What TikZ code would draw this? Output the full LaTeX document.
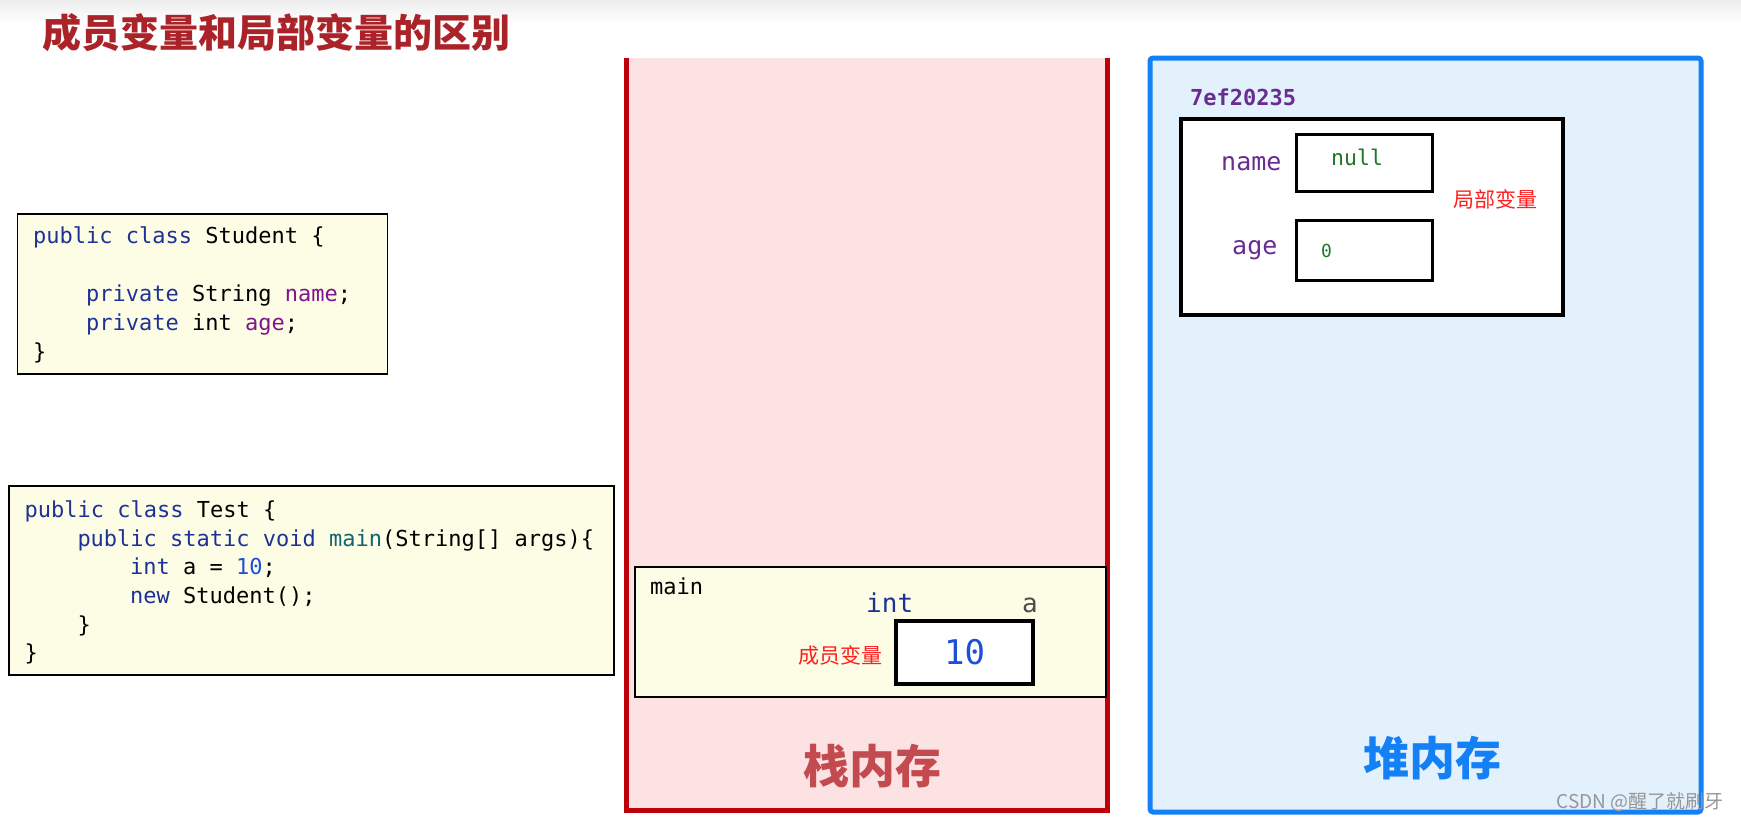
\documentclass[tikz,border=0pt]{standalone}
\usepackage{fontspec}
\newfontfamily\cjk{Noto Sans CJK SC}
\newfontfamily\code{DejaVu Sans Mono}
\definecolor{titlered}{RGB}{170,35,40}
\definecolor{kw}{RGB}{30,50,150}
\definecolor{fld}{RGB}{128,20,140}
\definecolor{fn}{RGB}{20,100,110}
\definecolor{num}{RGB}{30,80,215}
\definecolor{cream}{RGB}{253,253,230}
\definecolor{stackred}{RGB}{190,0,10}
\definecolor{stackfill}{RGB}{253,226,228}
\definecolor{stacklbl}{RGB}{195,75,80}
\definecolor{heapblue}{RGB}{20,128,245}
\definecolor{heapfill}{RGB}{227,241,253}
\definecolor{addr}{RGB}{105,45,145}
\definecolor{valgreen}{RGB}{30,120,40}
\definecolor{notered}{RGB}{255,30,30}
\definecolor{wm}{RGB}{150,150,150}
\tikzset{
  codebox/.style={draw=black, line width=1.5pt, fill=cream, inner sep=0pt},
  codeline/.style={anchor=base west, inner sep=0pt, font=\code\fontsize{22}{26}\selectfont},
  cellbox/.style={draw=black, line width=3pt, fill=white, inner sep=0pt},
  note/.style={inner sep=0pt, text=notered, font=\cjk\fontsize{21}{24}\selectfont},
  memlabel/.style={inner sep=0pt, font=\cjk\bfseries\fontsize{46}{50}\selectfont},
}
\begin{document}
\begin{tikzpicture}[x=1pt,y=-1pt]
\useasboundingbox (0,0) rectangle (1741,823);
\shade[top color=gray!14, bottom color=white] (0,0) rectangle (1741,24);

% title
\node[anchor=west, inner sep=0pt, text=titlered, font=\cjk\bfseries\fontsize{39}{42}\selectfont] (title) at (42,33) {成员变量和局部变量的区别};

% Student class box
\node[codebox, minimum width=370, minimum height=160] (student) at (202.5,294) {};
\node[codeline] (s1) at (33,243) {\textcolor{kw}{public class} Student \{};
\node[codeline] (s2) at (86,301) {\textcolor{kw}{private} String \textcolor{fld}{name};};
\node[codeline] (s3) at (86,330) {\textcolor{kw}{private} int \textcolor{fld}{age};};
\node[codeline] (s4) at (33,359) {\}};

% Test class box
\node[codebox, minimum width=605, minimum height=189] (test) at (311.5,580.5) {};
\node[codeline] (t1) at (24.5,517) {\textcolor{kw}{public class} Test \{};
\node[codeline] (t2) at (77.3,546) {\textcolor{kw}{public static void} \textcolor{fn}{main}(String[] args)\{};
\node[codeline] (t3) at (130,574) {\textcolor{kw}{int} a = \textcolor{num}{10};};
\node[codeline] (t4) at (130,603) {\textcolor{kw}{new} Student();};
\node[codeline] (t5) at (77.3,632) {\}};
\node[codeline] (t6) at (24.5,660) {\}};

% stack memory
\node[fill=stackfill, inner sep=0pt, minimum width=480, minimum height=752] (stack) at (867,434) {};
\draw[stackred, line width=5pt] (stack.north west) -- (stack.south west) -- (stack.south east) -- (stack.north east);
\node[codebox, minimum width=471, minimum height=130] (frame) at (870.5,632) {};
\node[codeline] (mainlbl) at (650,594) {main};
\node[anchor=base west, inner sep=0pt, text=kw, font=\code\fontsize{26}{30}\selectfont] (inttype) at (866,612) {int};
\node[anchor=base west, inner sep=0pt, text=black!70, font=\code\fontsize{26}{30}\selectfont] (avar) at (1022,612) {a};
\node[cellbox, line width=3.5pt, minimum width=137, minimum height=63, text=num, font=\code\fontsize{34}{38}\selectfont] (aval) at (964.5,652.5) {10};
\node[note] (member) at (840.5,655) {成员变量};
\node[memlabel, text=stacklbl] (stacklabel) at (872,766) {栈内存};

% heap memory
\node[draw=heapblue, line width=5pt, rounded corners=3pt, fill=heapfill, inner sep=0pt, minimum width=551, minimum height=754] (heap) at (1425.5,435) {};
\node[anchor=base west, inner sep=0pt, text=addr, font=\code\bfseries\fontsize{22}{26}\selectfont] (addr) at (1190,105) {7ef20235};
\node[cellbox, line width=3.5pt, minimum width=382, minimum height=196] (obj) at (1372,217) {};
\node[anchor=base west, inner sep=0pt, text=addr, font=\code\fontsize{25}{28}\selectfont] (namelbl) at (1221,170) {name};
\node[cellbox, minimum width=136, minimum height=57] (namebox) at (1364,162.5) {};
\node[anchor=base west, inner sep=0pt, text=valgreen, font=\code\fontsize{21.5}{24}\selectfont] (nameval) at (1331,165) {null};
\node[note] (local) at (1495.5,199) {局部变量};
\node[anchor=base west, inner sep=0pt, text=addr, font=\code\fontsize{25}{28}\selectfont] (agelbl) at (1232,254) {age};
\node[cellbox, minimum width=136, minimum height=60] (agebox) at (1364,250) {};
\node[anchor=base west, inner sep=0pt, text=valgreen, font=\code\fontsize{18}{20}\selectfont] (ageval) at (1321,257) {0};
\node[memlabel, text=heapblue] (heaplabel) at (1432,758) {堆内存};

% watermark
\node[anchor=east, inner sep=0pt, text=wm, font=\cjk\fontsize{19}{22}\selectfont] (wmark) at (1724,802) {CSDN @醒了就刷牙};
\end{tikzpicture}
\end{document}
